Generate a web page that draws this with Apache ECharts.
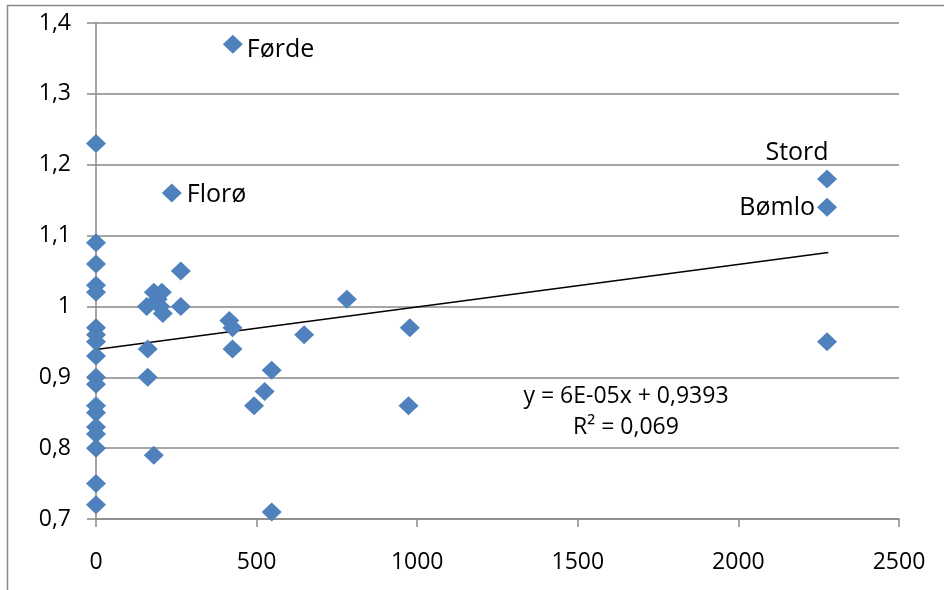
<!DOCTYPE html>
<html>
<head>
<meta charset="utf-8">
<script src="https://cdn.jsdelivr.net/npm/echarts@6/dist/echarts.min.js"></script>
<style>html,body{margin:0;padding:0;background:#fff}#c{width:944px;height:590px}</style>
</head>
<body>
<div id="c"></div>
<script>
// x values and y values
const xValues = [0,0,0,0,0,0,0,0,0,0,0,0,0,0,0,0,0,0,
  158,161,161,180,205,192,200,208,180,264,264,
  415,425,425,492,525,547,547,648,781,977,973,2276];
const yValues = [1.23,1.09,1.06,1.03,1.02,0.97,0.96,0.95,0.93,0.90,0.89,0.86,0.85,0.83,0.82,0.80,0.75,0.72,
  1.00,0.94,0.90,1.02,1.02,1.01,1.00,0.99,0.79,1.05,1.00,
  0.98,0.97,0.94,0.86,0.88,0.91,0.71,0.96,1.01,0.97,0.86,0.95];
// named points
const labelNames = ['Førde','Florø','Stord','Bømlo'];
const labelX = [426,236,2276,2276];
const labelY = [1.37,1.16,1.18,1.14];
// trend line from the chart's equation
const trendSlope = 0.00006;
const trendIntercept = 0.9393;
const trendRange = [0, 2280];
const xTicks = [0,500,1000,1500,2000,2500];
const yTicks = [0.7,0.8,0.9,1.0,1.1,1.2,1.3,1.4];

const FONT = 'Open Sans';
const BLUE = '#4F81BD';
const GRAY = '#898989';

const pts = xValues.map((x,i)=>[x,yValues[i]]);
const labelPos = {
  'Førde': {position:'right', distance:4, offset:[0,6]},
  'Florø': {position:'right', distance:5, offset:[0,2]},
  'Stord': {position:'top', distance:0, offset:[-30,-4]},
  'Bømlo': {position:'left', distance:2, offset:[0,1]}
};
const named = labelNames.map((n,i)=>({
  name:n, value:[labelX[i],labelY[i]],
  label:Object.assign({show:true, formatter:'{b}', color:'#000', fontFamily:FONT, fontSize:25}, labelPos[n])
}));
const trend = trendRange.map(x=>[x, trendIntercept + trendSlope*x]);

const fmtY = v => String(+(+v).toFixed(1)).replace('.', ',');
const fmtX = v => String(Math.round(v));

const chart = echarts.init(document.getElementById('c'), null, {renderer:'canvas'});
chart.setOption({
  animation:false,
  backgroundColor:'#fff',
  textStyle:{fontFamily:FONT},
  grid:{left:96, right:45, top:23, bottom:71},
  xAxis:{
    type:'value', min:xTicks[0], max:xTicks[xTicks.length-1], interval:500,
    axisLine:{show:true, onZero:false, lineStyle:{color:GRAY, width:1.5}},
    axisTick:{show:true, length:8, lineStyle:{color:GRAY, width:1.5}},
    axisLabel:{color:'#000', fontSize:23, fontFamily:FONT, margin:32, formatter:fmtX},
    splitLine:{show:false}
  },
  yAxis:{
    type:'value', min:yTicks[0], max:yTicks[yTicks.length-1], interval:0.1,
    axisLine:{show:true, onZero:false, lineStyle:{color:GRAY, width:1.5}},
    axisTick:{show:true, length:9, lineStyle:{color:GRAY, width:1.5}},
    axisLabel:{color:'#000', fontSize:23, fontFamily:FONT, margin:25, formatter:fmtY},
    splitLine:{show:true, lineStyle:{color:GRAY, width:1.5}}
  },
  series:[
    {type:'line', data:trend, symbol:'none', lineStyle:{color:'#000', width:1.5}, z:3},
    {type:'scatter', data:pts, symbol:'diamond', symbolSize:[20,19], itemStyle:{color:BLUE, opacity:1}, z:4},
    {type:'scatter', data:named, symbol:'diamond', symbolSize:[20,19], itemStyle:{color:BLUE, opacity:1}, z:4}
  ]
});
const eqPos = chart.convertToPixel({gridIndex:0}, [1650, 0.851]);
chart.setOption({graphic:[
  {type:'rect', shape:{x:7.5,y:5.5,width:1200,height:1200}, style:{fill:'none', stroke:GRAY, lineWidth:1.5}, silent:true, z:-10},
  {type:'text', x:eqPos[0], y:eqPos[1], style:{text:'y = 6E-05x + 0,9393\nR² = 0,069', align:'center', verticalAlign:'middle', font:'23px "Open Sans"', fill:'#000', lineHeight:31}, z:10}
]});
</script>
</body>
</html>
